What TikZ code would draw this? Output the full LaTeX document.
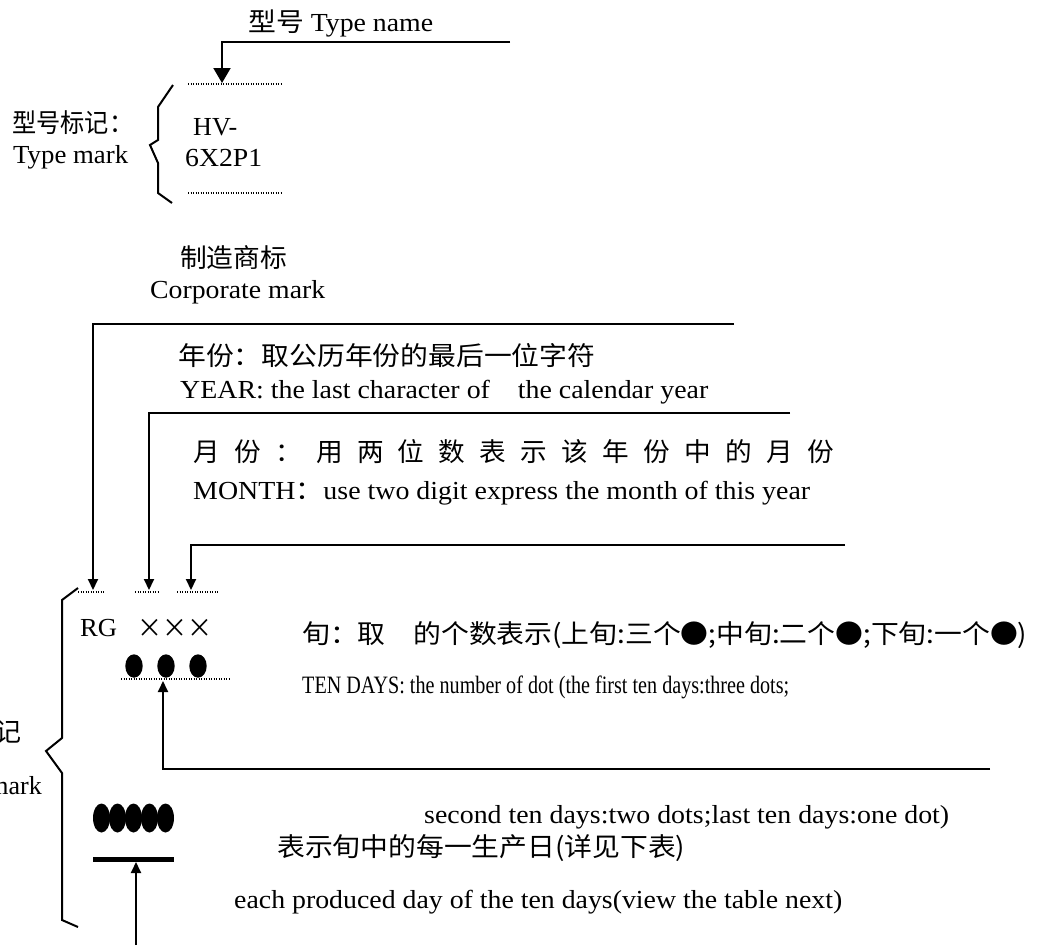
\documentclass[tikz,border=0pt]{standalone}
\usepackage{fontspec}
\usepackage{graphicx}
\setmainfont{Liberation Serif}
\newfontfamily\cjk{Noto Sans CJK SC}
\usetikzlibrary{arrows.meta}
\newcommand\fitw[2]{\resizebox{#1pt}{\height}{#2}}
\newcommand\gp{\hspace{14pt}}
\tikzset{
  txt/.style={anchor=west,inner sep=0pt,font=\fontsize{26}{30}\selectfont},
  midtxt/.style={anchor=west,inner sep=0pt,font=\fontsize{25}{29}\selectfont},
  conn/.style={line width=2pt},
  bigarr/.style={conn,-{Triangle[length=15pt,width=17pt]}},
  smallarr/.style={conn,-{Triangle[length=11pt,width=10pt]}},
  dotline/.style={line width=1.1pt,dash pattern=on 1pt off 1.5pt},
  bracel/.style={line width=2pt,line join=miter},
  bead/.style={fill=black,draw=none}
}
\begin{document}
\begin{tikzpicture}[x=1pt,y=-1pt]
\useasboundingbox (0,0) rectangle (1038,945);
\clip (0,0) rectangle (1038,945);
% ---------- Type mark ----------
\node[txt] (tname) at (248,23) {\fitw{185}{{\cjk 型号} Type name}};
\node[txt] (tmcn) at (12,123) {\fitw{121}{\cjk 型号标记：}};
\node[txt] (tmen) at (13,157) {\fitw{115}{Type mark}};
\node[txt] (hv) at (193,127) {\fitw{44}{HV-}};
\node[txt] (sx) at (185,158) {\fitw{77}{6X2P1}};
\coordinate (tnR) at (510,42);
\coordinate (tnTip) at (222,83);
\draw[bigarr] (tnR) -| (tnTip);
\coordinate (d1a) at (188,84); \coordinate (d1b) at (283,84);
\coordinate (d2a) at (188,193); \coordinate (d2b) at (283,193);
\draw[dotline] (d1a) -- (d1b);
\draw[dotline] (d2a) -- (d2b);
\draw[bracel] (173,85) -- (158,107) -- (158,140) -- (150,145) -- (158,163) -- (158,193) -- (172,203);
% ---------- corporate / year / month ----------
\node[txt] (corcn) at (180,258) {\fitw{107}{\cjk 制造商标}};
\node[txt] (coren) at (150,292) {\fitw{175}{Corporate mark}};
\node[txt] (yrcn) at (178,356) {\fitw{417}{\cjk 年份：取公历年份的最后一位字符}};
\node[txt] (yren) at (180,392) {\fitw{528}{YEAR: the last character of\ \ \ \ the calendar year}};
\node[txt] (mocn) at (193,452) {\fitw{641}{\cjk 月\gp 份\gp ：\gp 用\gp 两\gp 位\gp 数\gp 表\gp 示\gp 该\gp 年\gp 份\gp 中\gp 的\gp 月\gp 份}};
\node[txt] (moen) at (193,493) {\fitw{617}{MONTH{\cjk ：}use two digit express the month of this year}};
\coordinate (l1R) at (734,324); \coordinate (l1T) at (93,590);
\coordinate (l2R) at (790,413); \coordinate (l2T) at (149,590);
\coordinate (l3R) at (845,545); \coordinate (l3T) at (191,590);
\draw[smallarr] (l1R) -| (l1T);
\draw[smallarr] (l2R) -| (l2T);
\draw[smallarr] (l3R) -| (l3T);
% ---------- RG code ----------
\coordinate (e1a) at (78,592); \coordinate (e1b) at (105,592);
\coordinate (e2a) at (135,592); \coordinate (e2b) at (160,592);
\coordinate (e3a) at (177,592); \coordinate (e3b) at (218,592);
\draw[dotline] (e1a) -- (e1b);
\draw[dotline] (e2a) -- (e2b);
\draw[dotline] (e3a) -- (e3b);
\node[txt] (rg) at (80,628) {\fitw{37}{RG}};
\node[txt] (xxx) at (137,628) {\fitw{75}{\cjk ×××}};
\node[txt] (xuncn) at (302,635) {\fitw{725}{\cjk 旬：取\hspace{1em}的个数表示(上旬:三个●;中旬:二个●;下旬:一个●)}};
\node[midtxt] (xunen) at (302,687) {\fitw{487}{TEN DAYS: the number of dot (the first ten days:three dots;}};
\fill[bead] (134,666) ellipse [x radius=8.7, y radius=11.7];
\fill[bead] (166,666) ellipse [x radius=8.7, y radius=11.7];
\fill[bead] (198,666) ellipse [x radius=8.7, y radius=11.7];
\coordinate (f1a) at (121,679); \coordinate (f1b) at (231,679);
\draw[dotline] (f1a) -- (f1b);
\coordinate (u1R) at (990,769); \coordinate (u1T) at (163,681);
\draw[smallarr] (u1R) -| (u1T);
% ---------- day mark ----------
\foreach \cx in {101.5,117.5,133.5,149.5,165.5}
  \fill[bead] (\cx,818) ellipse [x radius=8.5, y radius=14.5];
\coordinate (bA) at (93,859); \coordinate (bB) at (174,859);
\draw[line width=5pt] (bA) -- (bB);
\coordinate (u2B) at (136,945); \coordinate (u2T) at (136,862);
\draw[smallarr] (u2B) -- (u2T);
\node[txt] (secen) at (424,817) {\fitw{525}{second ten days:two dots;last ten days:one dot)}};
\node[txt] (daycn) at (277,848) {\fitw{408}{\cjk 表示旬中的每一生产日(详见下表)}};
\node[txt] (dayen) at (234,902) {\fitw{608}{each produced day of the ten days(view the table next)}};
% ---------- big brace + cut label ----------
\draw[bracel] (78,588) -- (62,600) -- (62,738) -- (46,751) -- (62,773) -- (62,920) -- (78,927);
\node[txt,anchor=east] (dmcn) at (22,732) {\cjk 记};
\node[txt,anchor=east] (dmen) at (42,786) {mark};
\end{tikzpicture}
\end{document}
